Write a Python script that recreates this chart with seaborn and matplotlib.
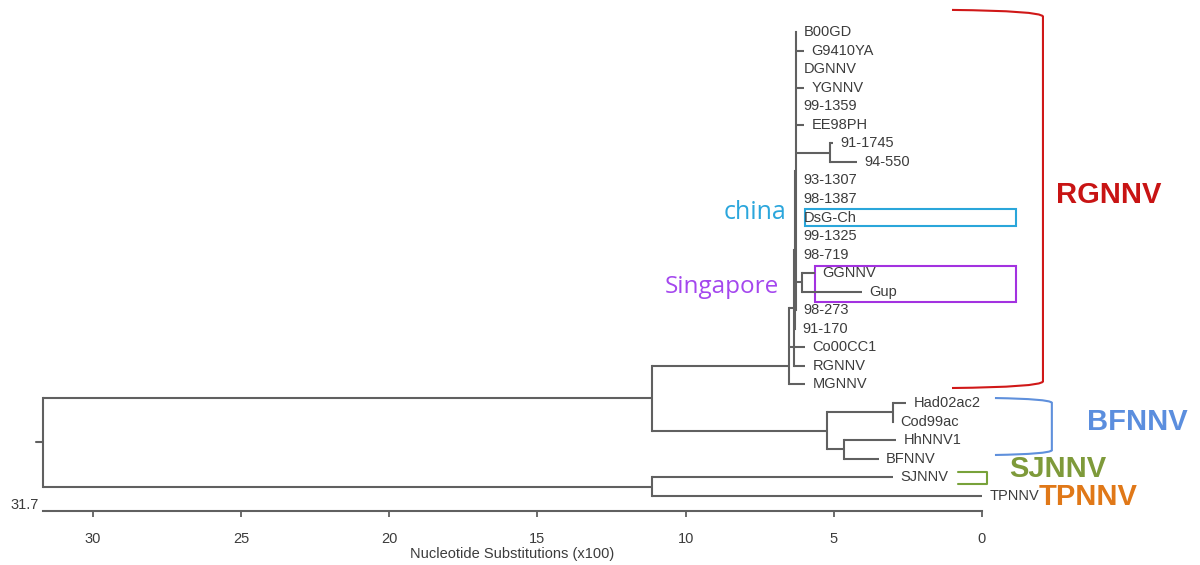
import seaborn as sns
import matplotlib.pyplot as plt
from matplotlib.patches import Rectangle, PathPatch
from matplotlib.path import Path

sns.set_theme(style="white")
plt.rcParams["font.family"] = ["Liberation Sans", "DejaVu Sans"]

# leaves, top to bottom, and where each branch ends (Nucleotide Substitutions x100)
leaf_names = ["B00GD", "G9410YA", "DGNNV", "YGNNV", "99-1359", "EE98PH", "91-1745", "94-550",
              "93-1307", "98-1387", "DsG-Ch", "99-1325", "98-719", "GGNNV", "Gup", "98-273",
              "91-170", "Co00CC1", "RGNNV", "MGNNV", "Had02ac2", "Cod99ac", "HhNNV1", "BFNNV",
              "SJNNV", "TPNNV"]
leaf_depths = [6.28, 6.0, 6.28, 6.0, 6.28, 6.0, 5.03, 4.22,
               6.28, 6.28, 6.28, 6.28, 6.28, 5.64, 4.05, 6.28,
               6.30, 5.97, 5.97, 5.97, 2.56, 3.0, 2.9, 3.48,
               3.0, 0.0]

# internal nodes: name -> depth, name -> children
node_depths = {"n_9117": 5.13, "n_gup": 6.07, "rg_core": 6.28, "rg_c": 6.30, "rg_b": 6.33,
               "rg": 6.51, "bf_a": 3.0, "bf_b": 4.66, "bf": 5.23, "n1": 11.15, "n2": 11.15,
               "root": 31.69}
node_children = {
    "n_9117": ["91-1745", "94-550"],
    "n_gup": ["GGNNV", "Gup"],
    "rg_core": ["B00GD", "G9410YA", "DGNNV", "YGNNV", "99-1359", "EE98PH", "n_9117",
                "93-1307", "98-1387", "DsG-Ch", "99-1325", "98-719", "n_gup", "98-273"],
    "rg_c": ["rg_core", "91-170"],
    "rg_b": ["rg_c", "RGNNV"],
    "rg": ["Co00CC1", "rg_b", "MGNNV"],
    "bf_a": ["Had02ac2", "Cod99ac"],
    "bf_b": ["HhNNV1", "BFNNV"],
    "bf": ["bf_a", "bf_b"],
    "n1": ["rg", "bf"],
    "n2": ["SJNNV", "TPNNV"],
    "root": ["n1", "n2"],
}
root_max = 31.69
x_ticks = [30, 25, 20, 15, 10, 5, 0]

line_col = "#606060"
text_col = "#3c3c3c"

fig = plt.figure(figsize=(12, 5.65), dpi=100)
ax = fig.add_axes([0, 0, 1, 1])
ax.set_xlim(33.14, -7.36)
ax.set_ylim(28.73, -1.725)


def draw(name):
    if name in leaf_names:
        i = leaf_names.index(name)
        d = leaf_depths[i]
        ax.text(d - 0.25, i, name, ha="left", va="center", fontsize=10.5, color=text_col)
        return i, d
    d = node_depths[name]
    ys = []
    for c in node_children[name]:
        cy, cd = draw(c)
        ax.plot([d, cd], [cy, cy], color=line_col, lw=1.5, solid_capstyle="butt")
        ys.append(cy)
    ax.plot([d, d], [min(ys), max(ys)], color=line_col, lw=1.5, solid_capstyle="projecting")
    # node sits halfway between its first and last child
    return (ys[0] + ys[-1]) / 2, d


root_y, root_d = draw("root")
ax.plot([root_d + 0.24, root_d], [root_y, root_y], color=line_col, lw=1.5)

# scale axis
axis_y = 25.82
for s in ["top", "left", "right"]:
    ax.spines[s].set_visible(False)
ax.spines["bottom"].set_position(("data", axis_y))
ax.spines["bottom"].set_bounds(0, root_max)
ax.spines["bottom"].set_color(line_col)
ax.spines["bottom"].set_linewidth(1.5)
ax.set_yticks([])
ax.set_xticks(x_ticks)
ax.set_xticklabels([str(t) for t in x_ticks])
ax.tick_params(axis="x", direction="out", length=4, width=1.3, color=line_col,
               labelcolor=text_col, labelsize=10.5, pad=11, bottom=True)
ax.set_xlabel("Nucleotide Substitutions (x100)", fontsize=10.5, color=text_col,
              labelpad=1, x=0.4267)
ax.text(root_max + 0.15, axis_y + 0.05, "31.7", ha="right", va="bottom", fontsize=10.5,
        color=text_col)


def bracket(x0, x1, y0, y1, r, color, lw=1.5):
    verts = [(x0, y0), (x1 + 0.1, y0 + 0.05), (x1, y0 + r), (x1, y1 - r),
             (x1 + 0.1, y1 - 0.05), (x0, y1)]
    codes = [Path.MOVETO, Path.CURVE3, Path.CURVE3, Path.LINETO, Path.CURVE3, Path.CURVE3]
    ax.add_patch(PathPatch(Path(verts, codes), fill=False, edgecolor=color, lw=lw))


# highlight boxes
ax.add_patch(Rectangle((5.97, 9.52), -7.12, 0.96, fill=False, edgecolor="#2aa6da", lw=1.5))
ax.add_patch(Rectangle((5.64, 12.62), -6.79, 1.94, fill=False, edgecolor="#a332e0", lw=1.5))
ax.text(7.66, 9.72, "china", ha="center", va="center", fontsize=18, color="#2ba6dc",
        family=["Open Sans", "DejaVu Sans"])
ax.text(8.79, 13.72, "Singapore", ha="center", va="center", fontsize=17.5, color="#a447ee",
        family=["Open Sans", "DejaVu Sans"])

# genotype brackets
bracket(1.01, -2.06, -1.19, 19.19, 0.35, "#d01818")
bracket(-0.44, -2.36, 19.73, 22.8, 0.25, "#5f90dc")
ax.plot([0.81, -0.17, -0.17, 0.81], [23.72, 23.72, 24.37, 24.37], color="#78a23a", lw=1.5)

ax.text(-4.29, 8.79, "RGNNV", ha="center", va="center", fontsize=21, fontweight="bold",
        color="#c81414")
ax.text(-5.23, 21.02, "BFNNV", ha="center", va="center", fontsize=21, fontweight="bold",
        color="#5b8ede")
ax.text(-2.56, 23.56, "SJNNV", ha="center", va="center", fontsize=21, fontweight="bold",
        color="#7e9a3a")
ax.text(-3.58, 25.07, "TPNNV", ha="center", va="center", fontsize=21, fontweight="bold",
        color="#e07818")

fig.savefig("out.png", dpi=100)
